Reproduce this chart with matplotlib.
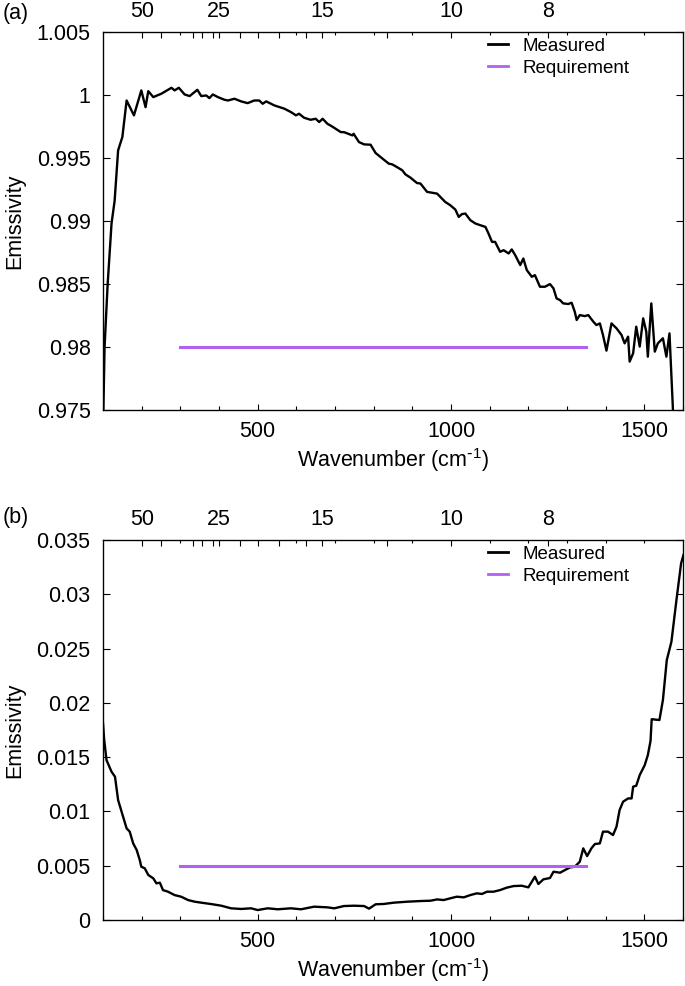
"""Measured vs. required emissivity, two panels, gnuplot look."""

import matplotlib

matplotlib.use("Agg")
import matplotlib.pyplot as plt
from matplotlib.ticker import FixedLocator, MultipleLocator, NullFormatter

plt.rcParams["font.family"] = ["Liberation Sans", "DejaVu Sans"]
plt.rcParams["mathtext.default"] = "regular"

# ---- data ------------------------------------------------------------------
# panel (a): emissivity close to 1
wn_a = [100, 104, 112, 122, 130, 139, 150, 161, 180, 199, 210, 217, 230, 251,
        277, 285, 296, 311, 324, 344, 354, 367, 375, 384, 397, 414, 423, 440,
        457, 474, 491, 504, 513, 522, 543, 569, 586, 599, 607, 620, 637, 650,
        659, 668, 680, 695, 715, 723, 745, 748, 762, 775, 792, 805, 826, 839,
        848, 860, 874, 882, 895, 912, 921, 938, 964, 985, 998, 1011, 1020,
        1028, 1037, 1050, 1063, 1076, 1089, 1097, 1106, 1114, 1127, 1136,
        1149, 1157, 1166, 1179, 1187, 1196, 1209, 1217, 1230, 1243, 1256,
        1265, 1273, 1282, 1290, 1303, 1312, 1320, 1325, 1333, 1346, 1355,
        1368, 1376, 1385, 1393, 1402, 1415, 1428, 1441, 1449, 1458, 1462,
        1471, 1479, 1488, 1497, 1505, 1509, 1518, 1527, 1535, 1548, 1557,
        1565, 1574, 1578]
emis_a = [0.9735, 0.9800, 0.9850, 0.9898, 0.9916, 0.9956, 0.99666, 0.99956,
          0.99838, 1.00036, 0.99903, 1.00030, 0.99983, 1.00010, 1.00057,
          1.00036, 1.00057, 1.00004, 0.99991, 1.00041, 0.99991, 0.99996,
          0.99975, 1.00004, 0.99983, 0.99962, 0.99956, 0.99970, 0.99949,
          0.99935, 0.99956, 0.99956, 0.99930, 0.99949, 0.99917, 0.99891,
          0.99864, 0.99838, 0.99851, 0.99819, 0.99803, 0.99811, 0.99785,
          0.99811, 0.99772, 0.99745, 0.99705, 0.99705, 0.99679, 0.99692,
          0.99626, 0.99608, 0.99605, 0.99539, 0.99487, 0.99455, 0.99449,
          0.99428, 0.99402, 0.99370, 0.99344, 0.99301, 0.99297, 0.99231,
          0.99217, 0.99151, 0.99125, 0.99091, 0.99032, 0.99054, 0.99059,
          0.99006, 0.98980, 0.98966, 0.98953, 0.98900, 0.98834, 0.98834,
          0.98755, 0.98768, 0.98742, 0.98774, 0.98729, 0.98650, 0.98702,
          0.98610, 0.98557, 0.98570, 0.98478, 0.98478, 0.98499, 0.98465,
          0.98385, 0.98372, 0.98346, 0.98341, 0.98351, 0.98280, 0.98214,
          0.98253, 0.98245, 0.98253, 0.98201, 0.98174, 0.98187, 0.98095,
          0.97971, 0.98187, 0.98148, 0.98095, 0.98029, 0.98082, 0.97884,
          0.97950, 0.98161, 0.98003, 0.98227, 0.98121, 0.97923, 0.98346,
          0.97963, 0.98029, 0.98069, 0.97923, 0.98108, 0.9750, 0.9700]

# panel (b): emissivity close to 0
wn_b = [100, 103, 109, 122, 131, 139, 148, 161, 169, 178, 187, 195, 199, 208,
        217, 230, 238, 247, 255, 268, 285, 302, 320, 337, 354, 380, 406, 431,
        457, 483, 500, 526, 552, 586, 612, 646, 680, 698, 723, 749, 775, 788,
        805, 826, 852, 887, 921, 947, 964, 981, 998, 1015, 1033, 1050, 1067,
        1080, 1093, 1110, 1127, 1144, 1162, 1183, 1200, 1209, 1217, 1226,
        1239, 1256, 1265, 1282, 1295, 1308, 1320, 1333, 1342, 1352, 1363,
        1372, 1385, 1393, 1406, 1419, 1428, 1436, 1445, 1458, 1467, 1471,
        1479, 1488, 1501, 1509, 1516, 1519, 1539, 1548, 1558, 1570, 1583,
        1595, 1601]
emis_b = [0.0181, 0.0166, 0.01473, 0.01366, 0.01320, 0.01105, 0.00998,
          0.00844, 0.00814, 0.00706, 0.00645, 0.00553, 0.00491, 0.00476,
          0.00415, 0.00384, 0.00338, 0.00344, 0.00276, 0.00261, 0.00230,
          0.00215, 0.00184, 0.00169, 0.00160, 0.00147, 0.00132, 0.00108,
          0.00102, 0.00108, 0.00092, 0.00108, 0.00099, 0.00108, 0.00099,
          0.00123, 0.00117, 0.00108, 0.00129, 0.00132, 0.00129, 0.00105,
          0.00145, 0.00148, 0.00160, 0.00169, 0.00175, 0.00178, 0.00190,
          0.00184, 0.00200, 0.00215, 0.00209, 0.00230, 0.00246, 0.00240,
          0.00261, 0.00261, 0.00276, 0.00298, 0.00313, 0.00316, 0.00301,
          0.00353, 0.00399, 0.00332, 0.00375, 0.00387, 0.00445, 0.00436,
          0.00461, 0.00485, 0.00491, 0.00537, 0.00660, 0.00589, 0.00660,
          0.00700, 0.00706, 0.00814, 0.00814, 0.00783, 0.00860, 0.01013,
          0.01090, 0.01120, 0.01120, 0.01228, 0.01237, 0.01335, 0.01427,
          0.01519, 0.01650, 0.01850, 0.01842, 0.02026, 0.02394, 0.02563,
          0.02947, 0.03284, 0.03361]

# requirement: flat line between 300 and 1350 cm^-1
req_wn = [300, 1350]
req_a = [0.98, 0.98]
req_b = [0.005, 0.005]

yticks_a = [0.975, 0.98, 0.985, 0.99, 0.995, 1.0, 1.005]
ylabels_a = ["0.975", "0.98", "0.985", "0.99", "0.995", "1", "1.005"]
yticks_b = [0, 0.005, 0.01, 0.015, 0.02, 0.025, 0.03, 0.035]
ylabels_b = ["0", "0.005", "0.01", "0.015", "0.02", "0.025", "0.03", "0.035"]

# top axis: wavelength in micrometres
lam_ticks = [50, 40, 30, 28, 26, 25, 22, 20, 18, 16, 15, 12, 10, 8]
lam_labeled = [50, 25, 15, 10, 8]

PURPLE = "#b260f2"
FS = 15.5


def _panel(ax, wn, emis, req, yticks, ylabels):
    ax.plot(wn, emis, color="black", lw=1.7, label="Measured")
    ax.plot(req_wn, req, color=PURPLE, lw=2.2, label="Requirement")

    ax.set_xlim(100, 1600)
    ax.set_ylim(yticks[0], yticks[-1])
    ax.set_yticks(yticks)
    ax.set_yticklabels(ylabels)
    ax.set_xticks([500, 1000, 1500])
    ax.xaxis.set_minor_locator(MultipleLocator(100))
    ax.tick_params(which="both", direction="in", labelsize=FS, right=True,
                   top=False, width=0.8)
    ax.tick_params(axis="x", which="major", length=4, pad=8)
    ax.tick_params(axis="x", which="minor", length=3)
    ax.tick_params(axis="y", which="major", length=5, pad=9)
    ax.set_xlabel(r"Wavenumber (cm$^{\text{-}1}$)", fontsize=FS, labelpad=3)
    ax.set_ylabel("Emissivity", fontsize=FS, labelpad=8)
    for sp in ax.spines.values():
        sp.set_linewidth(0.9)

    leg = ax.legend(loc="upper left", bbox_to_anchor=(0.663, 0.985),
                    frameon=False, fontsize=13.5, handlelength=1.1,
                    handletextpad=0.75, labelspacing=0.25, borderpad=0,
                    borderaxespad=0)
    for h in leg.get_lines():
        h.set_linewidth(2.0)

    top = ax.twiny()
    top.set_xlim(ax.get_xlim())
    top.set_xticks([1e4 / lam for lam in lam_ticks])
    top.set_xticklabels([str(lam) if lam in lam_labeled else ""
                         for lam in lam_ticks])
    top.xaxis.set_minor_locator(FixedLocator(range(200, 1600, 100)))
    top.xaxis.set_minor_formatter(NullFormatter())
    top.tick_params(which="both", direction="in", labelsize=FS, width=0.8)
    top.tick_params(which="major", length=4.5, pad=7)
    top.tick_params(which="minor", length=2.5)
    return top


fig = plt.figure(figsize=(6.85, 9.86), dpi=100)
ax_a = fig.add_axes([0.1504, 0.5842, 0.8467, 0.3834])
ax_b = fig.add_axes([0.1504, 0.0669, 0.8467, 0.3854])

_panel(ax_a, wn_a, emis_a, req_a, yticks_a, ylabels_a)
_panel(ax_b, wn_b, emis_b, req_b, yticks_b, ylabels_b)

fig.text(0.004, 1 - 13 / 986, "(a)", fontsize=FS, va="center", ha="left")
fig.text(0.004, 1 - 518 / 986, "(b)", fontsize=FS, va="center", ha="left")

fig.savefig("out.png", dpi=100)
